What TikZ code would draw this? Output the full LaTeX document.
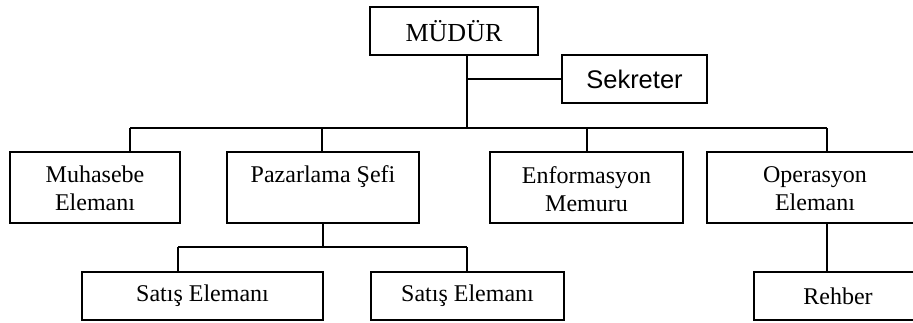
\documentclass[tikz,border=0pt]{standalone}
\usepackage{fontspec}
\setmainfont{Liberation Serif}
\newfontfamily\sekfont{Liberation Sans}
\begin{document}
\begin{tikzpicture}[x=1pt,y=-1pt,
  box/.style={draw, line width=1.6pt, inner sep=0pt, align=center},
  txt/.style={inner sep=0pt, align=center, font=\fontsize{24}{28}\selectfont},
  wire/.style={line width=1.6pt}]
\useasboundingbox (0,0) rectangle (913,322);
\clip (0,0) rectangle (913,322);

% top level
\node[box, minimum width=168, minimum height=48, font=\fontsize{26}{30}\selectfont] (mud) at (454,31) {MÜDÜR};
\node[box, minimum width=145, minimum height=48, font=\sekfont\fontsize{25.5}{30}\selectfont] (sek) at (634.5,79) {Sekreter};

% second level boxes
\node[box, minimum width=170, minimum height=71] (muh) at (95,187.5) {};
\node[box, minimum width=192, minimum height=71] (paz) at (323,187.5) {};
\node[box, minimum width=193, minimum height=71] (enf) at (586.5,187.5) {};
\node[box, minimum width=216, minimum height=71] (ope) at (815,187.5) {};
% labels: base anchor sits on the last line
\node[txt, anchor=base] (muhT) at (95,210) {Muhasebe\\Elemanı};
\node[txt, anchor=base] (pazT) at (323,182) {Pazarlama Şefi};
\node[txt, anchor=base] (enfT) at (586.5,211) {Enformasyon\\Memuru};
\node[txt, anchor=base] (opeT) at (815,210) {Operasyon\\Elemanı};

% third level
\node[box, minimum width=241, minimum height=48, font=\fontsize{24}{28}\selectfont] (sat1) at (202.5,296) {Satış Elemanı};
\node[box, minimum width=193, minimum height=48, font=\fontsize{24}{28}\selectfont] (sat2) at (467.5,296) {Satış Elemanı};
\node[box, minimum width=168, minimum height=48, font=\fontsize{24}{28}\selectfont] (reh) at (838,296) {Rehber};

% bus points
\coordinate (trunk) at (467,128);
\coordinate (dMuh) at (130,128);
\coordinate (dPaz) at (322,128);
\coordinate (dEnf) at (587,128);
\coordinate (dOpe) at (827,128);
\coordinate (sub) at (323,247);
\coordinate (dS1) at (178,247);
\coordinate (dS2) at (467,247);
\coordinate (dReh) at (827,223);

% connectors
\draw[wire] (trunk |- mud.south) -- (trunk);
\draw[wire] (trunk |- sek.west) -- (sek.west);
\draw[wire] (dMuh) -- (dOpe);
\draw[wire] (dMuh) -- (dMuh |- muh.north);
\draw[wire] (dPaz) -- (dPaz |- paz.north);
\draw[wire] (dEnf) -- (dEnf |- enf.north);
\draw[wire] (dOpe) -- (dOpe |- ope.north);
\draw[wire] (sub |- paz.south) -- (sub);
\draw[wire] (dS1) -- (dS2);
\draw[wire] (dS1) -- (dS1 |- sat1.north);
\draw[wire] (dS2) -- (dS2 |- sat2.north);
\draw[wire] (dReh |- ope.south) -- (dReh |- reh.north);
\end{tikzpicture}
\end{document}
